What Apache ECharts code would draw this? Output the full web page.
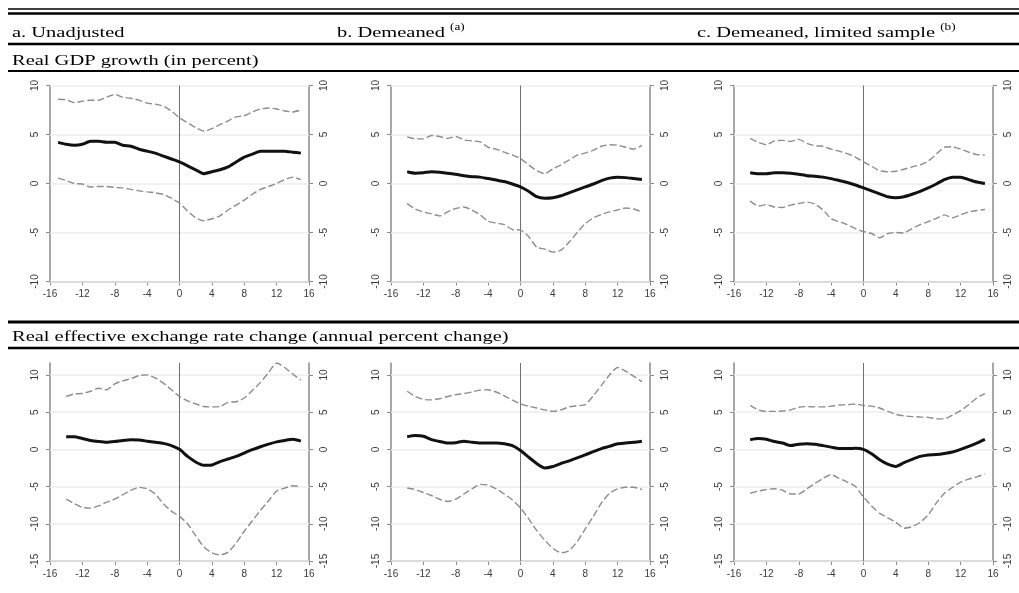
<!DOCTYPE html>
<html><head><meta charset="utf-8">
<script src="https://cdn.jsdelivr.net/npm/echarts@6/dist/echarts.min.js"></script>
<style>html,body{margin:0;padding:0;background:#fff}#c{width:1019px;height:593px}</style>
</head><body><div id="c"></div>
<script>
// ---- data ----
const xTicks = [-16, -12, -8, -4, 0, 4, 8, 12, 16];
const gdpTicks = [-10, -5, 0, 5, 10];
const rerTicks = [-15, -10, -5, 0, 5, 10];
const xFrom15 = [-15,-14,-13,-12,-11,-10,-9,-8,-7,-6,-5,-4,-3,-2,-1,0,1,2,3,4,5,6,7,8,9,10,11,12,13,14,15];
const xFrom14 = [-14,-13,-12,-11,-10,-9,-8,-7,-6,-5,-4,-3,-2,-1,0,1,2,3,4,5,6,7,8,9,10,11,12,13,14,15];

// Real GDP growth, a. Unadjusted (x from -15)
const gdpA_mid = [4.2,4.0,3.9,4.0,4.3,4.3,4.2,4.2,3.9,3.8,3.5,3.3,3.1,2.8,2.5,2.2,1.8,1.4,1.0,1.2,1.4,1.7,2.2,2.7,3.0,3.3,3.3,3.3,3.3,3.2,3.1];
const gdpA_hi  = [8.6,8.55,8.25,8.4,8.5,8.5,8.8,9.1,8.8,8.7,8.5,8.2,8.1,7.9,7.4,6.7,6.2,5.7,5.35,5.6,6.0,6.4,6.8,6.9,7.3,7.6,7.7,7.6,7.4,7.3,7.5];
const gdpA_lo  = [0.55,0.3,0.0,-0.05,-0.35,-0.3,-0.3,-0.4,-0.45,-0.6,-0.75,-0.85,-0.95,-1.1,-1.5,-2.0,-2.8,-3.5,-3.8,-3.6,-3.3,-2.7,-2.2,-1.7,-1.1,-0.6,-0.3,0.0,0.4,0.65,0.4];
// Real GDP growth, b. Demeaned (x from -14)
const gdpB_mid = [1.2,1.05,1.1,1.2,1.15,1.05,0.95,0.8,0.7,0.65,0.5,0.35,0.2,-0.05,-0.35,-0.8,-1.35,-1.5,-1.45,-1.25,-0.95,-0.65,-0.35,-0.05,0.3,0.55,0.65,0.6,0.5,0.4];
const gdpB_hi  = [4.75,4.55,4.55,4.9,4.8,4.6,4.8,4.45,4.35,4.25,3.7,3.5,3.2,2.9,2.55,1.9,1.3,1.0,1.5,1.9,2.4,2.9,3.1,3.4,3.8,3.95,3.9,3.7,3.5,3.9];
const gdpB_lo  = [-2.05,-2.6,-2.9,-3.1,-3.3,-2.9,-2.55,-2.4,-2.7,-3.2,-3.85,-4.05,-4.2,-4.7,-4.75,-5.4,-6.5,-6.7,-7.0,-6.8,-6.0,-5.0,-4.1,-3.5,-3.15,-2.9,-2.7,-2.5,-2.6,-2.9];
// Real GDP growth, c. Demeaned, limited sample (x from -14)
const gdpC_mid = [1.1,1.0,1.0,1.1,1.1,1.05,0.95,0.8,0.75,0.65,0.5,0.3,0.1,-0.15,-0.45,-0.75,-1.05,-1.35,-1.45,-1.35,-1.1,-0.8,-0.45,-0.05,0.4,0.65,0.65,0.4,0.15,0.0];
const gdpC_hi  = [4.6,4.2,3.95,4.35,4.4,4.3,4.5,4.1,3.85,3.8,3.5,3.3,3.05,2.7,2.2,1.75,1.3,1.2,1.25,1.45,1.7,1.9,2.3,3.0,3.7,3.75,3.5,3.2,2.95,2.9];
const gdpC_lo  = [-1.8,-2.3,-2.15,-2.4,-2.45,-2.2,-2.05,-1.9,-2.1,-2.7,-3.6,-3.9,-4.2,-4.6,-4.9,-5.1,-5.55,-5.1,-5.0,-5.05,-4.6,-4.2,-3.9,-3.55,-3.2,-3.5,-3.2,-2.9,-2.75,-2.65];
// Real effective exchange rate change, a. (x from -14)
const rerA_mid = [1.7,1.7,1.45,1.2,1.05,0.95,1.05,1.2,1.3,1.25,1.1,0.95,0.8,0.5,0.0,-0.95,-1.7,-2.15,-2.1,-1.65,-1.3,-0.95,-0.5,-0.05,0.35,0.7,1.0,1.2,1.35,1.1];
const rerA_hi  = [7.1,7.45,7.5,7.8,8.2,8.0,8.8,9.2,9.5,9.9,10.0,9.6,8.9,8.0,7.1,6.5,6.1,5.75,5.7,5.75,6.3,6.4,6.9,7.9,9.0,10.3,11.6,11.0,10.1,9.3];
const rerA_lo  = [-6.7,-7.3,-7.8,-7.9,-7.6,-7.1,-6.7,-6.1,-5.5,-5.1,-5.3,-6.0,-7.3,-8.3,-9.0,-10.0,-11.6,-13.1,-13.9,-14.2,-13.8,-12.6,-11.0,-9.6,-8.2,-6.9,-5.6,-5.2,-4.9,-5.0];
// Real effective exchange rate change, b.
const rerB_mid = [1.7,1.85,1.75,1.3,1.05,0.85,0.9,1.1,0.95,0.85,0.85,0.85,0.75,0.5,-0.15,-1.05,-1.9,-2.5,-2.3,-1.9,-1.55,-1.15,-0.75,-0.3,0.1,0.4,0.75,0.85,0.95,1.1];
const rerB_hi  = [7.8,7.1,6.7,6.65,6.8,7.1,7.35,7.5,7.7,7.95,8.0,7.7,7.2,6.6,6.1,5.8,5.55,5.3,5.1,5.3,5.7,5.85,6.0,7.2,8.6,10.0,11.0,10.5,9.8,9.1];
const rerB_lo  = [-5.2,-5.4,-5.8,-6.2,-6.7,-7.0,-6.7,-6.0,-5.3,-4.7,-4.8,-5.3,-6.0,-6.8,-7.9,-9.3,-10.9,-12.2,-13.3,-13.9,-13.6,-12.4,-10.7,-9.0,-7.2,-5.9,-5.3,-5.1,-5.1,-5.4];
// Real effective exchange rate change, c.
const rerC_mid = [1.3,1.45,1.35,1.05,0.85,0.5,0.7,0.75,0.7,0.5,0.3,0.1,0.1,0.15,0.0,-0.6,-1.4,-2.0,-2.3,-1.8,-1.35,-0.95,-0.75,-0.7,-0.55,-0.35,0.0,0.4,0.85,1.35];
const rerC_hi  = [5.9,5.3,5.1,5.1,5.15,5.3,5.65,5.75,5.7,5.7,5.8,5.95,6.0,6.1,5.9,5.8,5.55,5.1,4.7,4.5,4.4,4.35,4.3,4.1,4.1,4.6,5.2,6.0,6.9,7.5];
const rerC_lo  = [-5.9,-5.6,-5.4,-5.3,-5.5,-6.0,-6.0,-5.3,-4.6,-3.9,-3.4,-3.9,-4.4,-5.0,-6.4,-7.6,-8.6,-9.2,-9.8,-10.6,-10.4,-9.8,-8.8,-7.2,-5.9,-5.1,-4.4,-4.0,-3.7,-3.3];

// ---- layout ----
const colLeft = [50, 391, 734];
const colWidth = 259;
const rows = [
  { top: 85.5, height: 196, min: -10, max: 10, ticks: gdpTicks },
  { top: 363, height: 198, min: -15, max: 11.6, ticks: rerTicks }
];
const panels = [
  { row: 0, col: 0, xs: xFrom15, mid: gdpA_mid, hi: gdpA_hi, lo: gdpA_lo },
  { row: 0, col: 1, xs: xFrom14, mid: gdpB_mid, hi: gdpB_hi, lo: gdpB_lo },
  { row: 0, col: 2, xs: xFrom14, mid: gdpC_mid, hi: gdpC_hi, lo: gdpC_lo },
  { row: 1, col: 0, xs: xFrom14, mid: rerA_mid, hi: rerA_hi, lo: rerA_lo },
  { row: 1, col: 1, xs: xFrom14, mid: rerB_mid, hi: rerB_hi, lo: rerB_lo },
  { row: 1, col: 2, xs: xFrom14, mid: rerC_mid, hi: rerC_hi, lo: rerC_lo }
];

const axisGray = '#8a8a8a';
const labelStyle = { fontSize: 10, color: '#3a3a3a', fontFamily: 'Liberation Sans' };
const grid = [], xAxis = [], yAxis = [], series = [];
const pair = (xs, ys) => xs.map((x, i) => [x, ys[i]]);

panels.forEach((p, i) => {
  const r = rows[p.row];
  grid.push({ left: colLeft[p.col], top: r.top, width: colWidth, height: r.height, containLabel: false });
  xAxis.push({
    gridIndex: i, type: 'value', min: -16, max: 16, interval: 4,
    axisLine: { show: true, onZero: false, lineStyle: { color: axisGray, width: 1.5 } },
    axisTick: { show: true, length: 4, lineStyle: { color: axisGray, width: 1 } },
    axisLabel: Object.assign({ margin: 8, customValues: xTicks }, labelStyle),
    splitLine: { show: false }
  });
  ['left', 'right'].forEach(pos => {
    yAxis.push({
      gridIndex: i, type: 'value', min: r.min, max: r.max, position: pos,
      axisLine: { show: true, onZero: false, lineStyle: { color: axisGray, width: 1.5 } },
      axisTick: { show: true, length: 4, customValues: r.ticks, lineStyle: { color: axisGray, width: 1 } },
      axisLabel: Object.assign({ rotate: 90, margin: 10, customValues: r.ticks }, labelStyle),
      splitLine: { show: false }
    });
  });
  const yIdx = i * 2;
  const gridLines = r.ticks.map(v => ({ yAxis: v, lineStyle: { color: '#ececec', width: 1.5, type: 'solid' } }));
  gridLines.push({ xAxis: 0, lineStyle: { color: '#707070', width: 1, type: 'solid' } });
  const dashed = { color: '#8c8c8c', width: 1.4, type: [7, 3] };
  series.push({
    type: 'line', xAxisIndex: i, yAxisIndex: yIdx, data: pair(p.xs, p.hi),
    showSymbol: false, smooth: 0.2, lineStyle: dashed, z: 2,
    markLine: { silent: true, symbol: ['none', 'none'], label: { show: false }, animation: false, data: gridLines, z: 1 }
  });
  series.push({
    type: 'line', xAxisIndex: i, yAxisIndex: yIdx, data: pair(p.xs, p.lo),
    showSymbol: false, smooth: 0.2, lineStyle: dashed, z: 2
  });
  series.push({
    type: 'line', xAxisIndex: i, yAxisIndex: yIdx, data: pair(p.xs, p.mid),
    showSymbol: false, smooth: 0.2, lineStyle: { color: '#111', width: 3 }, z: 3
  });
});

const serif = '"Liberation Serif", "Times New Roman", serif';
const sx = 1.32;
const measureCtx = document.createElement('canvas').getContext('2d');
function textWidth(s, size) {
  measureCtx.font = size + 'px ' + serif;
  return measureCtx.measureText(s).width * sx;
}
function txt(x, y, s, size) {
  return { type: 'text', x: x, y: y, scaleX: sx, silent: true,
    style: { text: s, font: size + 'px ' + serif, fill: '#000', verticalAlign: 'middle', align: 'left' } };
}
function rule(y, w) {
  return { type: 'line', silent: true, shape: { x1: 8, y1: y, x2: 1019, y2: y }, style: { stroke: '#000', lineWidth: w } };
}
const headB = 'b. Demeaned', headC = 'c. Demeaned, limited sample';
const xB = 337, xC = 697;
const graphic = [
  rule(9, 1.5), rule(13.5, 2.5),
  txt(12, 33, 'a. Unadjusted', 15.5),
  txt(xB, 33, headB, 15.5), txt(xB + textWidth(headB + ' ', 15.5), 27, '(a)', 10),
  txt(xC, 33, headC, 15.5), txt(xC + textWidth(headC + ' ', 15.5), 27, '(b)', 10),
  rule(44, 2.5),
  txt(12, 60.5, 'Real GDP growth (in percent)', 15.5),
  rule(71, 2),
  rule(322, 3),
  txt(12, 336.5, 'Real effective exchange rate change (annual percent change)', 15.5),
  rule(348, 2.5)
];

const chart = echarts.init(document.getElementById('c'));
chart.setOption({ animation: false, backgroundColor: '#fff', grid, xAxis, yAxis, series, graphic });
</script></body></html>
